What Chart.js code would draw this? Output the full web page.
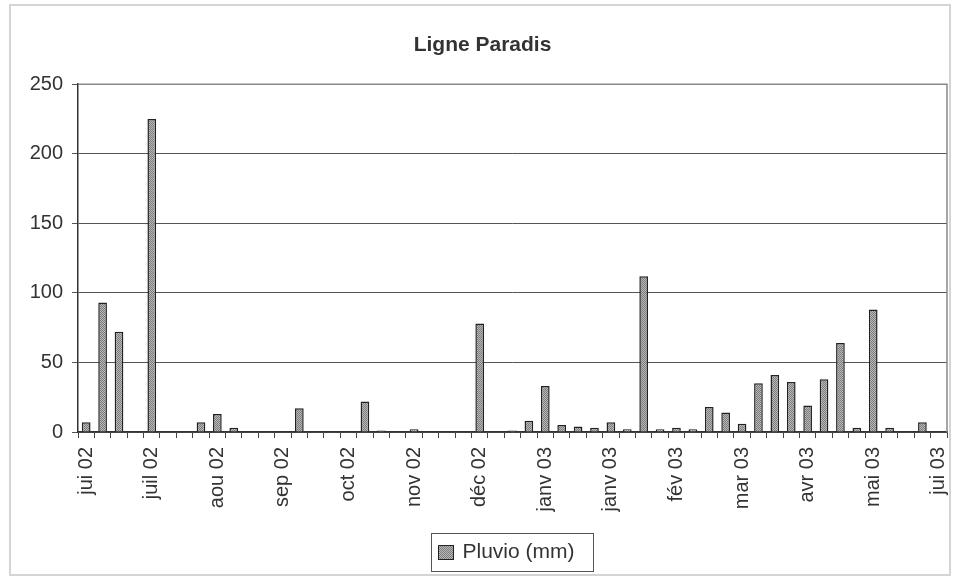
<!DOCTYPE html>
<html>
<head>
<meta charset="utf-8">
<title>Ligne Paradis</title>
<script src="https://cdn.jsdelivr.net/npm/chart.js@4/dist/chart.umd.min.js"></script>
<style>
  body { margin: 0; background: #fff; }
  canvas { display: block; }
</style>
</head>
<body>
<canvas id="chart" width="954" height="577"></canvas>
<script>
// Weekly rainfall, one value per week (null = no rain)
var weeks = [];
for (var w = 1; w <= 53; w++) {
  weeks.push("S" + w);
}
var pluvio = [
  7, 93, 72, null, 225, null, null, 7, 13, 3,
  null, null, null, 17, null, null, null, 22, 1, null,
  2, null, null, null, 78, null, 1, 8, 33, 5,
  4, 3, 7, 2, 112, 2, 3, 2, 18, 14,
  6, 35, 41, 36, 19, 38, 64, 3, 88, 3,
  null, 7, null
];
// Month labels shown every 4th week
var monthLabels = [
  "jui 02", "juil 02", "aou 02", "sep 02", "oct 02", "nov 02", "déc 02",
  "janv 03", "janv 03", "fév 03", "mar 03", "avr 03", "mai 03", "jui 03"
];
var yTicks = [0, 50, 100, 150, 200, 250];

var FONT = "'Liberation Sans', Arial, sans-serif";
var TEXT = "#333";

// Stippled grey fill like the Excel bars
function makePattern() {
  var c = document.createElement("canvas");
  c.width = 2;
  c.height = 2;
  var g = c.getContext("2d");
  g.fillStyle = "#b8b8b8";
  g.fillRect(0, 0, 2, 2);
  g.fillStyle = "#7c7c7c";
  g.fillRect(0, 0, 1, 1);
  g.fillRect(1, 1, 1, 1);
  return g.createPattern(c, "repeat");
}

var ctx = document.getElementById("chart").getContext("2d");
var barFill = makePattern();

// Frame, plot border and legend box
var decorPlugin = {
  id: "decor",
  beforeDraw: function (chart) {
    var c = chart.ctx;
    c.save();
    c.fillStyle = "#fff";
    c.fillRect(0, 0, chart.width, chart.height);
    c.strokeStyle = "#d4d4d4";
    c.lineWidth = 2;
    c.strokeRect(10, 5, chart.width - 14, chart.height - 7);
    c.restore();
  },
  afterDatasetsDraw: function (chart) {
    var a = chart.chartArea;
    var c = chart.ctx;
    c.save();
    c.strokeStyle = "#888";
    c.lineWidth = 1.5;
    c.beginPath();
    c.moveTo(a.left, a.top);
    c.lineTo(a.right, a.top);
    c.lineTo(a.right, a.bottom);
    c.stroke();
    c.restore();
  },
  afterDraw: function (chart) {
    var a = chart.chartArea;
    var c = chart.ctx;
    var label = chart.data.datasets[0].label;
    c.save();
    c.font = "21px " + FONT;
    var tw = c.measureText(label).width;
    var bw = tw + 50;
    var cx = (a.left + a.right) / 2;
    var bx = Math.round(cx - bw / 2) + 0.5;
    var by = 533.5;
    c.fillStyle = "#fff";
    c.fillRect(bx, by, bw, 38);
    c.strokeStyle = "#555";
    c.lineWidth = 1;
    c.strokeRect(bx, by, bw, 38);
    // swatch
    c.fillStyle = barFill;
    c.fillRect(bx + 7, by + 12, 15, 14);
    c.strokeStyle = "#222";
    c.strokeRect(bx + 7, by + 12, 15, 14);
    // text
    c.fillStyle = TEXT;
    c.textBaseline = "middle";
    c.fillText(label, bx + 31, by + 19);
    c.restore();
  }
};

var chart = new Chart(ctx, {
  type: "bar",
  data: {
    labels: weeks,
    datasets: [
      {
        label: "Pluvio (mm)",
        data: pluvio,
        backgroundColor: barFill,
        borderColor: "#222",
        borderWidth: 1.5,
        barPercentage: 0.53,
        categoryPercentage: 1.0
      }
    ]
  },
  options: {
    responsive: false,
    animation: false,
    layout: {
      padding: { top: 0, right: 7, bottom: 0, left: 18 }
    },
    plugins: {
      legend: { display: false },
      tooltip: { enabled: false },
      title: {
        display: true,
        text: "Ligne Paradis",
        color: TEXT,
        font: { family: FONT, size: 21, weight: "bold" },
        padding: { top: 33, bottom: 26 }
      }
    },
    scales: {
      x: {
        offset: true,
        grid: {
          offset: true,
          drawOnChartArea: false,
          drawTicks: true,
          tickLength: 6,
          color: "#444"
        },
        border: { color: "#333", width: 1.5 },
        ticks: {
          autoSkip: false,
          minRotation: 90,
          maxRotation: 90,
          padding: 9,
          color: TEXT,
          font: { family: FONT, size: 20 },
          callback: function (value, index) {
            return index % 4 === 0 ? monthLabels[index / 4] : "";
          }
        },
        afterFit: function (scale) {
          scale.height = 145;
          scale.paddingLeft = 0;
          scale.paddingRight = 0;
        }
      },
      y: {
        min: yTicks[0],
        max: yTicks[yTicks.length - 1],
        grid: {
          color: "#555",
          lineWidth: 1,
          drawTicks: true,
          tickLength: 6
        },
        border: { color: "#333", width: 1.5 },
        ticks: {
          stepSize: 50,
          padding: 9,
          color: TEXT,
          font: { family: FONT, size: 20 }
        },
        afterFit: function (scale) {
          scale.width = 60;
          scale.paddingTop = 0;
          scale.paddingBottom = 0;
        }
      }
    }
  },
  plugins: [decorPlugin]
});
</script>
</body>
</html>
